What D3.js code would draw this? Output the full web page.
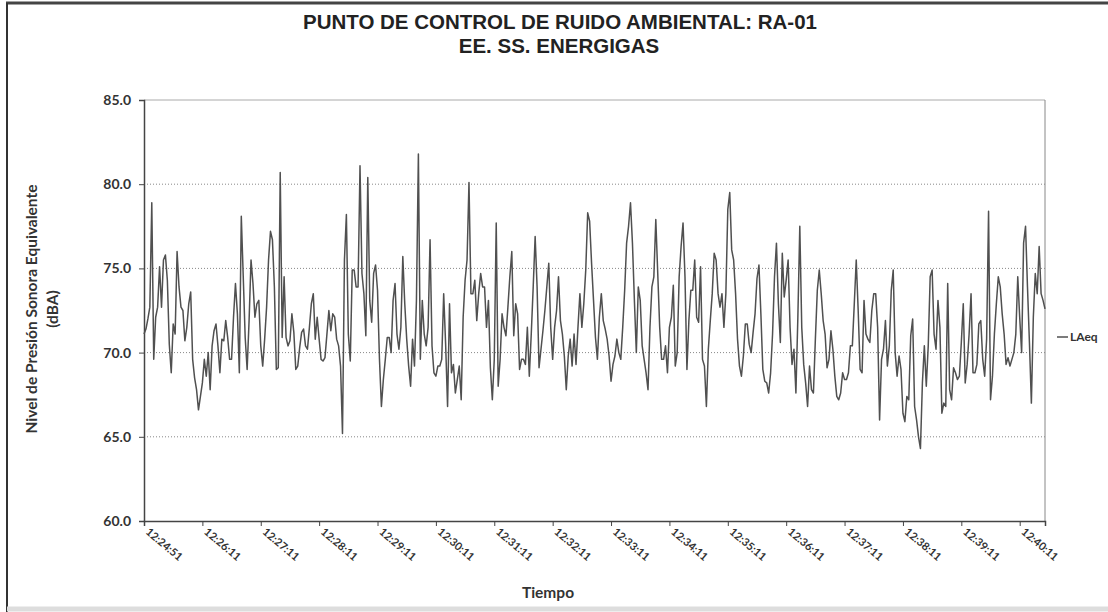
<!DOCTYPE html>
<html>
<head>
<meta charset="utf-8">
<script src="https://cdn.jsdelivr.net/npm/d3@7"></script>
<style>
  body { margin: 0; background: #fff; }
</style>
</head>
<body>
<div id="chart"></div>
<script>
var yTicks = [60, 65, 70, 75, 80, 85];
var timeLabels = ["12:24:51", "12:26:11", "12:27:11", "12:28:11", "12:29:11", "12:30:11",
                  "12:31:11", "12:32:11", "12:33:11", "12:34:11", "12:35:11", "12:36:11",
                  "12:37:11", "12:38:11", "12:39:11", "12:40:11"];
var labelSeconds = [0, 60, 120, 180, 240, 300, 360, 420, 480, 540, 600, 660, 720, 780, 840, 900];
var sampleStep = 2; // seconds between readings
var laeq = [
  71.1, 71.4, 72.0, 72.7, 78.9, 69.6, 72.1, 72.7, 75.1, 72.7,
  75.5, 75.8, 74.3, 70.5, 68.8, 71.7, 71.1, 76.0, 73.9, 72.7,
  72.5, 70.7, 71.5, 72.9, 73.6, 69.6, 68.5, 67.8, 66.6, 67.4,
  68.2, 69.6, 68.6, 70.0, 67.8, 70.4, 71.3, 71.7, 70.4, 68.8,
  70.8, 70.7, 71.9, 70.9, 69.6, 69.6, 72.1, 74.1, 72.3, 68.8,
  78.1, 74.5, 70.9, 69.0, 71.9, 75.5, 74.1, 72.1, 72.9, 73.1,
  70.4, 69.2, 70.8, 72.7, 75.5, 77.2, 76.7, 73.9, 69.0, 69.1,
  80.7, 70.9, 74.5, 70.9, 70.4, 70.7, 72.3, 71.2, 69.0, 69.2,
  70.3, 71.2, 71.4, 70.4, 70.2, 71.5, 72.9, 73.5, 70.8, 72.1,
  70.8, 69.6, 69.5, 69.7, 71.1, 72.5, 71.3, 72.3, 72.1, 70.8,
  70.4, 69.2, 65.2, 75.5, 78.2, 71.1, 69.5, 74.9, 74.9, 73.9,
  73.9, 81.1, 74.7, 73.5, 71.0, 80.4, 73.1, 71.8, 74.7, 75.2,
  73.7, 69.6, 66.8, 68.4, 69.6, 70.9, 70.9, 70.0, 73.1, 74.1,
  71.1, 70.2, 71.5, 75.7, 72.9, 70.8, 69.2, 68.0, 70.8, 69.2,
  73.1, 81.8, 69.6, 73.1, 71.1, 70.4, 71.5, 76.7, 70.4, 68.8,
  68.6, 69.2, 69.2, 69.6, 73.5, 70.5, 66.8, 72.9, 68.8, 69.3,
  67.6, 68.4, 69.2, 67.2, 72.1, 74.3, 75.5, 80.1, 73.5, 73.5,
  74.3, 71.9, 73.5, 74.7, 73.9, 73.9, 71.5, 73.1, 69.1, 67.2,
  69.6, 77.7, 68.0, 69.6, 72.3, 71.5, 71.0, 72.7, 74.5, 76.0,
  71.0, 72.9, 72.3, 69.0, 69.6, 69.6, 69.3, 71.5, 68.6, 71.1,
  73.9, 76.9, 73.9, 69.1, 70.2, 71.3, 72.5, 73.9, 75.3, 71.5,
  69.6, 71.5, 72.5, 74.5, 71.9, 71.1, 69.8, 67.8, 69.8, 70.8,
  69.2, 71.1, 69.3, 71.5, 73.5, 71.5, 72.9, 74.9, 78.3, 77.8,
  75.3, 73.1, 70.9, 69.6, 72.1, 73.5, 71.9, 71.4, 70.8, 69.8,
  68.3, 69.3, 69.8, 70.8, 70.0, 69.6, 71.5, 73.7, 76.5, 77.5,
  78.9, 76.5, 73.1, 70.0, 73.9, 73.1, 70.4, 69.6, 68.8, 67.8,
  71.5, 73.9, 74.5, 77.9, 74.7, 71.5, 69.6, 69.6, 70.4, 68.8,
  71.5, 72.1, 74.0, 69.2, 70.0, 74.5, 76.3, 77.7, 74.5, 69.0,
  71.9, 73.7, 73.7, 75.5, 72.1, 71.8, 75.1, 69.6, 69.2, 66.8,
  70.2, 71.9, 73.5, 75.9, 75.5, 73.5, 72.7, 73.5, 71.5, 73.5,
  78.5, 79.5, 76.1, 75.5, 73.5, 70.8, 69.2, 68.6, 69.8, 71.7,
  71.7, 70.5, 70.0, 71.2, 72.3, 74.4, 75.2, 72.3, 69.0, 68.3,
  68.2, 67.6, 68.8, 71.1, 74.5, 76.5, 72.9, 70.6, 75.9, 73.3,
  74.3, 75.5, 71.5, 69.3, 70.2, 67.6, 72.1, 77.5, 71.5, 69.3,
  68.2, 66.8, 69.2, 67.8, 67.6, 70.8, 73.7, 74.9, 73.5, 71.9,
  71.1, 69.1, 69.6, 71.3, 70.2, 68.6, 67.4, 67.2, 67.6, 68.8,
  68.4, 68.4, 68.8, 70.4, 70.4, 72.9, 75.5, 72.5, 69.0, 68.8,
  73.1, 71.1, 70.8, 70.6, 72.5, 73.5, 73.5, 71.5, 66.0, 69.6,
  70.2, 71.9, 69.2, 70.4, 73.7, 74.9, 70.0, 68.6, 69.8, 69.0,
  66.4, 65.9, 67.4, 67.2, 71.0, 72.0, 66.8, 66.0, 65.0, 64.3,
  68.2, 70.4, 68.0, 70.4, 74.5, 74.9, 71.1, 70.2, 73.1, 71.5,
  66.4, 67.0, 66.8, 74.1, 67.8, 67.2, 69.1, 68.8, 68.4, 68.6,
  70.6, 72.9, 68.2, 69.3, 71.1, 73.5, 68.8, 68.8, 69.3, 71.7,
  71.9, 69.6, 68.6, 70.8, 78.4, 67.2, 68.6, 71.1, 72.9, 74.5,
  73.9, 72.3, 71.1, 69.3, 69.7, 69.2, 69.6, 70.0, 71.1, 74.5,
  72.1, 70.0, 76.5, 77.5, 73.9, 70.6, 67.0, 72.1, 74.7, 73.5,
  76.3, 73.5, 73.1, 72.6
];

var w = 1108, h = 612;
var plotLeft = 144, plotRight = 1045, plotTop = 100, plotBottom = 521;
var axisFont = "Lato, 'Open Sans', sans-serif";

var svg = d3.select("#chart").append("svg")
    .attr("width", w)
    .attr("height", h);

// outer frame of the chart sheet
svg.append("line").attr("x1", 6).attr("y1", 3).attr("x2", w).attr("y2", 3)
    .attr("style", "stroke:#444;stroke-width:3");
svg.append("line").attr("x1", 7).attr("y1", 3).attr("x2", 7).attr("y2", h)
    .attr("style", "stroke:#333;stroke-width:2");
svg.append("line").attr("x1", 7).attr("y1", 609).attr("x2", w).attr("y2", 609)
    .attr("style", "stroke:#ddd;stroke-width:5");

var x = d3.scaleLinear()
    .domain([0, (laeq.length - 1) * sampleStep])
    .range([plotLeft, plotRight]);
var y = d3.scaleLinear()
    .domain([60, 85])
    .range([plotBottom, plotTop]);

// gridlines
svg.selectAll("line.grid").data(yTicks.filter(function (d) { return d > 60; })).enter()
    .append("line")
    .attr("class", "grid")
    .attr("x1", plotLeft)
    .attr("x2", plotRight)
    .attr("y1", function (d) { return y(d); })
    .attr("y2", function (d) { return y(d); })
    .attr("style", function (d) {
        return d === 85 ? "stroke:#aaa;stroke-width:1" : "stroke:#888;stroke-width:1;stroke-dasharray:1,2";
    });

// right border of plot area
svg.append("line")
    .attr("x1", plotRight).attr("x2", plotRight)
    .attr("y1", plotTop).attr("y2", plotBottom)
    .attr("style", "stroke:#888;stroke-width:1");

// y axis
var yAxis = d3.axisLeft(y)
    .tickValues(yTicks)
    .tickSize(5)
    .tickPadding(8)
    .tickFormat(d3.format(".1f"));
var gy = svg.append("g")
    .attr("transform", "translate(" + plotLeft + ",0)")
    .call(yAxis);
gy.select(".domain").attr("stroke", "#444").attr("stroke-width", 1.5);
gy.selectAll(".tick line").attr("stroke", "#444");
gy.selectAll("text")
    .attr("font-family", axisFont)
    .attr("font-weight", "bold")
    .attr("font-size", 14)
    .attr("fill", "#333");

// x axis
var xAxis = d3.axisBottom(x)
    .tickValues(labelSeconds)
    .tickSize(5)
    .tickFormat(function (d, i) { return timeLabels[i]; });
var gx = svg.append("g")
    .attr("transform", "translate(0," + plotBottom + ")")
    .call(xAxis);
gx.select(".domain").attr("stroke", "#444").attr("stroke-width", 1.5);
gx.selectAll(".tick line").attr("stroke", "#444");
gx.selectAll("text")
    .attr("font-family", axisFont)
    .attr("font-weight", "bold")
    .attr("font-size", 11)
    .attr("fill", "#333")
    .attr("text-anchor", "start")
    .attr("transform", "translate(8,3) rotate(40)")
    .attr("dy", "0.35em");

// the LAeq trace
var line = d3.line()
    .x(function (d, i) { return x(i * sampleStep); })
    .y(function (d) { return y(d); });
svg.append("path")
    .datum(laeq)
    .attr("d", line)
    .attr("fill", "none")
    .attr("stroke", "#505050")
    .attr("stroke-width", 1.5)
    .attr("stroke-linejoin", "round");

// titles
svg.append("text")
    .attr("x", 560).attr("y", 29)
    .attr("text-anchor", "middle")
    .attr("font-family", "'Liberation Sans', Arial, sans-serif")
    .attr("font-weight", "bold")
    .attr("font-size", 20.5)
    .attr("fill", "#222")
    .text("PUNTO DE CONTROL DE RUIDO AMBIENTAL: RA-01");
svg.append("text")
    .attr("x", 559).attr("y", 53)
    .attr("text-anchor", "middle")
    .attr("font-family", "'Liberation Sans', Arial, sans-serif")
    .attr("font-weight", "bold")
    .attr("font-size", 20.5)
    .attr("fill", "#222")
    .text("EE. SS. ENERGIGAS");

var yTitle = svg.append("text")
    .attr("transform", "translate(37,309) rotate(-90)")
    .attr("text-anchor", "middle")
    .attr("font-family", axisFont)
    .attr("font-weight", "bold")
    .attr("font-size", 15.5)
    .attr("fill", "#333");
yTitle.append("tspan").attr("x", 0).attr("y", 0).text("Nivel de Presión Sonora Equivalente");
yTitle.append("tspan").attr("x", 0).attr("y", 21).text("(dBA)");

svg.append("text")
    .attr("x", 548).attr("y", 598)
    .attr("text-anchor", "middle")
    .attr("font-family", axisFont)
    .attr("font-weight", "bold")
    .attr("font-size", 15.5)
    .attr("fill", "#333")
    .text("Tiempo");

// legend
svg.append("line")
    .attr("x1", 1057).attr("x2", 1068)
    .attr("y1", 337).attr("y2", 337)
    .attr("stroke", "#505050").attr("stroke-width", 1.5);
svg.append("text")
    .attr("x", 1070).attr("y", 341)
    .attr("font-family", axisFont)
    .attr("font-weight", "bold")
    .attr("font-size", 12)
    .attr("fill", "#333")
    .text("LAeq");
</script>
</body>
</html>
